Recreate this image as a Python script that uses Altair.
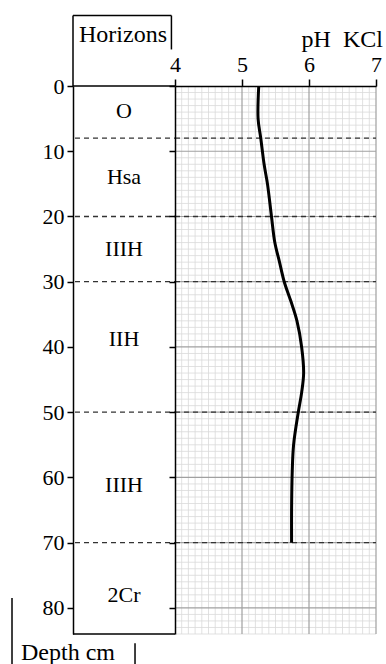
import altair as alt
import pandas as pd

# ---- data ----
depth = [0, 5, 8, 12, 15, 20, 24, 27, 30, 33, 36, 40, 44, 47, 50, 55, 59, 65, 70]
ph = [5.25, 5.24, 5.28, 5.33, 5.38, 5.44, 5.49, 5.56, 5.63, 5.73, 5.82, 5.89,
      5.92, 5.89, 5.84, 5.77, 5.75, 5.74, 5.74]

horizon_names = ["O", "Hsa", "IIIH", "IIH", "IIIH", "2Cr"]
horizon_label_depth = [3.8, 14, 25, 38.8, 61.2, 78]
boundaries = [8, 20, 30, 50, 70]
depth_ticks = [0, 10, 20, 30, 40, 50, 60, 70, 80]
ph_ticks = [4, 5, 6, 7]
DMAX = 84
PH_MIN, PH_MAX = 4, 7

FONT = "Liberation Serif"
H_LEFT = 102
W_RIGHT = 201
HEIGHT = 548

yscale = alt.Scale(domain=[0, DMAX], reverse=True, nice=False, zero=False)


def left_y(field):
    return alt.Y(field, type="quantitative", scale=yscale,
                 axis=alt.Axis(values=depth_ticks, orient="left", tickSize=6,
                               labelFontSize=22, labelFont=FONT, labelColor="black",
                               domainColor="black", domainWidth=1.5, tickColor="black",
                               tickWidth=1.5, labelPadding=3, title=None, grid=False,
                               zindex=1))


def right_y(field):
    return alt.Y(field, type="quantitative", scale=yscale,
                 axis=alt.Axis(values=depth_ticks, orient="left", tickSize=6,
                               labels=False, domainColor="black", domainWidth=1.5,
                               tickColor="black", tickWidth=1.5, title=None, grid=False,
                               zindex=1))


xl = alt.Scale(domain=[0, 1], nice=False, zero=False)
xr = alt.Scale(domain=[PH_MIN, PH_MAX], nice=False, zero=False)
xr_axis = alt.Axis(values=ph_ticks, orient="top", tickSize=7, labelFontSize=22,
                   labelFont=FONT, labelColor="black", domainColor="black",
                   domainWidth=1.5, tickColor="black", tickWidth=1.5, labelPadding=3,
                   title=None, grid=False, zindex=1, labelFlush=False)

# ---- left panel: horizons column ----
labels_df = pd.DataFrame({"name": horizon_names, "d": horizon_label_depth,
                          "x": [0.5] * len(horizon_names)})
bound_df = pd.DataFrame({"d": boundaries})

frame_df = pd.DataFrame({
    "x":  [0, 0, 0, 0.965, 0, -0.598, 0.608],
    "x2": [1, 1, 0, 0.965, 0.965, -0.598, 0.608],
    "y":  [DMAX, 0, -10.8, -10.8, -10.8, 78.5, 85.4],
    "y2": [DMAX, 0, 0, -5.6, -10.8, 89, 89],
})
title_df = pd.DataFrame({"t": ["Horizons"], "x": [0.49], "y": [-6.8]})
depth_title_df = pd.DataFrame({"t": ["Depth cm"], "x": [-0.51], "y": [88.0]})

left_labels = alt.Chart(labels_df).mark_text(
    font=FONT, fontSize=22, color="black", align="center", baseline="middle"
).encode(x=alt.X("x:Q", scale=xl, axis=None), y=left_y("d"), text="name:N")

left_dash = alt.Chart(bound_df).mark_rule(
    color="#333333", strokeWidth=1.3, strokeDash=[5, 4]
).encode(x=alt.value(2), x2=alt.value(H_LEFT), y=left_y("d"))

left_frame = alt.Chart(frame_df).mark_rule(color="black", strokeWidth=1.5).encode(
    x=alt.X("x:Q", scale=xl, axis=None), x2="x2:Q", y=left_y("y"), y2="y2:Q")

left_title = alt.Chart(title_df).mark_text(
    font=FONT, fontSize=24, color="black", align="center", baseline="alphabetic"
).encode(x=alt.X("x:Q", scale=xl, axis=None), y=left_y("y"), text="t:N")

left_depth_title = alt.Chart(depth_title_df).mark_text(
    font=FONT, fontSize=24, color="black", align="left", baseline="alphabetic"
).encode(x=alt.X("x:Q", scale=xl, axis=None), y=left_y("y"), text="t:N")

left = alt.layer(left_frame, left_dash, left_labels, left_title, left_depth_title).properties(
    width=H_LEFT, height=HEIGHT)

# ---- right panel: pH profile on graph paper ----
minor_ph = [round(PH_MIN + i * 0.1, 1) for i in range(31) if i % 10 != 0]
major_ph = [5, 6, 7]
minor_d = [i for i in range(1, DMAX + 1) if i % 10 != 0]
major_d = [10, 20, 30, 40, 50, 60, 70, 80]

vminor = pd.DataFrame({"p": minor_ph, "y0": 0, "y1": DMAX})
hminor = pd.DataFrame({"d": minor_d, "x0": PH_MIN, "x1": PH_MAX})
vmajor = pd.DataFrame({"p": major_ph, "y0": 0, "y1": DMAX})
hmajor = pd.DataFrame({"d": major_d, "x0": PH_MIN, "x1": PH_MAX})

curve_df = pd.DataFrame({"depth": depth, "ph": ph})
ptitle_df = pd.DataFrame({"t": ["pH\u00a0\u00a0KCl"], "x": [7.104], "y": [-6.0]})

g_minor_v = alt.Chart(vminor).mark_rule(color="#d9d9d9", strokeWidth=0.8).encode(
    x=alt.X("p:Q", scale=xr, axis=xr_axis), y=right_y("y0"), y2="y1:Q")
g_minor_h = alt.Chart(hminor).mark_rule(color="#d9d9d9", strokeWidth=0.8).encode(
    x=alt.X("x0:Q", scale=xr, axis=xr_axis), x2="x1:Q", y=right_y("d"))
g_major_v = alt.Chart(vmajor).mark_rule(color="#a0a0a0", strokeWidth=1.2).encode(
    x=alt.X("p:Q", scale=xr, axis=xr_axis), y=right_y("y0"), y2="y1:Q")
g_major_h = alt.Chart(hmajor).mark_rule(color="#a0a0a0", strokeWidth=1.2).encode(
    x=alt.X("x0:Q", scale=xr, axis=xr_axis), x2="x1:Q", y=right_y("d"))
right_dash = alt.Chart(bound_df).mark_rule(
    color="#333333", strokeWidth=1.3, strokeDash=[5, 4]
).encode(x=alt.value(0), x2=alt.value(W_RIGHT), y=right_y("d"))

curve = alt.Chart(curve_df).mark_line(
    color="black", strokeWidth=3, interpolate="catmull-rom"
).encode(x=alt.X("ph:Q", scale=xr, axis=xr_axis), y=right_y("depth"),
         order=alt.Order("depth:Q"))

ptitle = alt.Chart(ptitle_df).mark_text(
    font=FONT, fontSize=24, color="black", align="right", baseline="alphabetic"
).encode(x=alt.X("x:Q", scale=xr, axis=xr_axis), y=right_y("y"), text="t:N")

right = alt.layer(g_minor_v, g_minor_h, g_major_v, g_major_h, right_dash, curve,
                  ptitle).properties(width=W_RIGHT, height=HEIGHT)

chart = alt.hconcat(left, right, spacing=0, bounds="flush").properties(
    padding={"left": 11, "top": 14, "right": 0, "bottom": 0},
    background="white",
).configure_view(stroke=None)

chart.save("out.html", embed_options={"renderer": "svg", "actions": False})
